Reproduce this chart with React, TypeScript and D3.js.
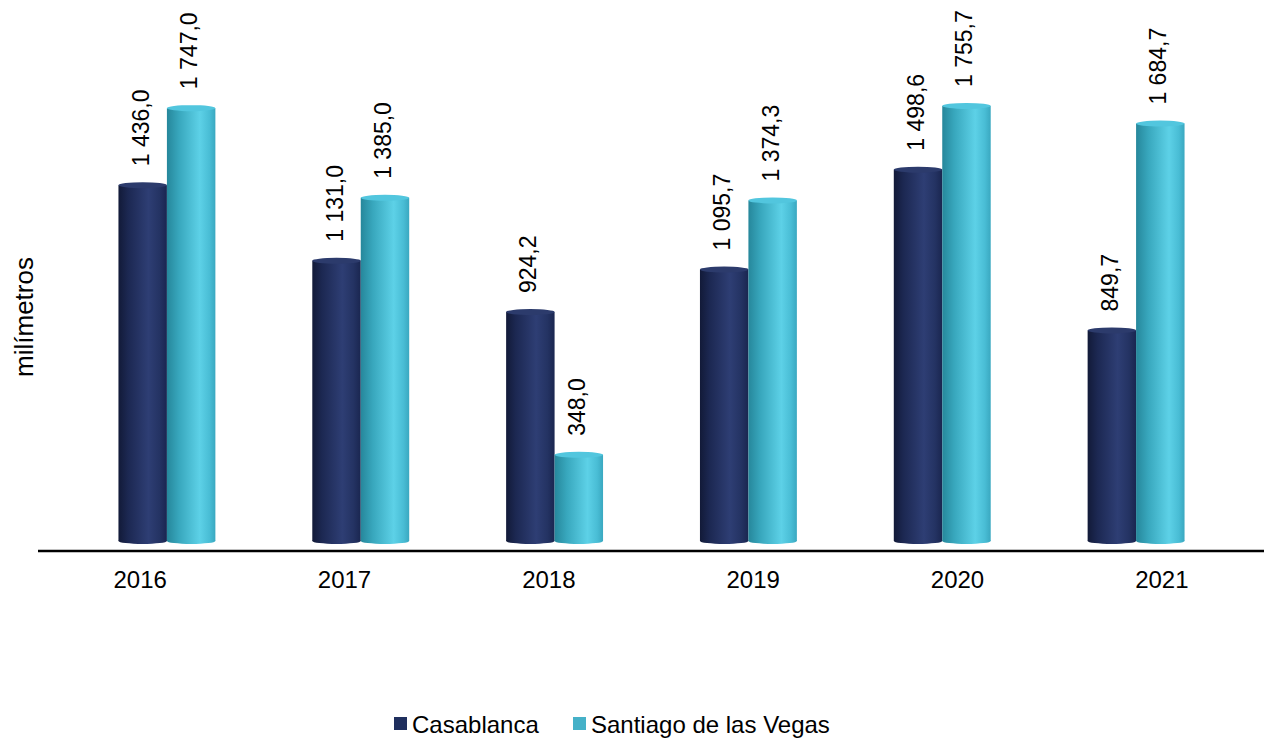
import React from "react";
import * as d3 from "d3";

const years = ["2016", "2017", "2018", "2019", "2020", "2021"];
const casablanca = [1436.0, 1131.0, 924.2, 1095.7, 1498.6, 849.7];
const santiago = [1747.0, 1385.0, 348.0, 1374.3, 1755.7, 1684.7];
const seriesNames = ["Casablanca", "Santiago de las Vegas"];
const yAxisTitle = "milímetros";

const W = 1264;
const H = 742;
const FONT = "'Liberation Sans', Arial, sans-serif";

const fmt = (v: number) => {
  const s = v.toFixed(1).replace(".", ",");
  const [intPart, dec] = s.split(",");
  const withSpace = intPart.replace(/\B(?=(\d{3})+(?!\d))/g, " ");
  return withSpace + "," + dec;
};

export default function App() {
  const y = d3.scaleLinear().domain([0, 1800]).range([541, 95]);
  const xBars = d3
    .scaleBand<string>()
    .domain(years)
    .range([70, 1233])
    .paddingInner(0.5)
    .paddingOuter(0.25);
  const xLabels = d3.scaleBand<string>().domain(years).range([38, 1264]);
  const xSeries = d3
    .scaleBand<number>()
    .domain([0, 1])
    .range([0, xBars.bandwidth()]);

  const series = [
    { name: seriesNames[0], values: casablanca, grad: "gradCasa", top: "#2c3b6c", legend: "#1f2f5e" },
    { name: seriesNames[1], values: santiago, grad: "gradSant", top: "#52c6de", legend: "#45b1c8" },
  ];

  const ry = 3;

  return (
    <svg
      width={W}
      height={H}
      style={{ position: "absolute", left: 0, top: 0, background: "#fff" }}
      fontFamily={FONT}
    >
      <defs>
        <linearGradient id="gradCasa" x1="0" x2="1" y1="0" y2="0">
          <stop offset="0" stopColor="#121a38" />
          <stop offset="0.2" stopColor="#1c2852" />
          <stop offset="0.62" stopColor="#2e3e74" />
          <stop offset="0.85" stopColor="#243363" />
          <stop offset="1" stopColor="#1a2650" />
        </linearGradient>
        <linearGradient id="gradSant" x1="0" x2="1" y1="0" y2="0">
          <stop offset="0" stopColor="#26879b" />
          <stop offset="0.25" stopColor="#38a7bd" />
          <stop offset="0.68" stopColor="#5dd1e7" />
          <stop offset="0.88" stopColor="#49bdd5" />
          <stop offset="1" stopColor="#3aa8c0" />
        </linearGradient>
      </defs>

      {years.map((yr, i) => (
        <g key={yr}>
          {series.map((s, si) => {
            const x0 = (xBars(yr) as number) + (xSeries(si) as number);
            const w = xSeries.bandwidth();
            const v = s.values[i];
            const yt = y(v);
            const yb = y(0);
            const cx = x0 + w / 2;
            return (
              <g key={s.name}>
                <ellipse cx={cx} cy={yb} rx={w / 2} ry={ry} fill={`url(#${s.grad})`} />
                <rect x={x0} y={yt} width={w} height={yb - yt} fill={`url(#${s.grad})`} />
                <ellipse cx={cx} cy={yt} rx={w / 2} ry={ry} fill={s.top} />
                <text
                  transform={`translate(${cx + 6},${yt - 19}) rotate(-90)`}
                  fontSize={23}
                  fill="#000"
                  textAnchor="start"
                >
                  {fmt(v)}
                </text>
              </g>
            );
          })}
          <text
            x={(xLabels(yr) as number) + xLabels.bandwidth() / 2}
            y={588}
            fontSize={24}
            textAnchor="middle"
            fill="#000"
          >
            {yr}
          </text>
        </g>
      ))}

      <line x1={38} x2={1264} y1={551} y2={551} stroke="#000" strokeWidth={2.5} />

      <text
        transform={`translate(33,317) rotate(-90)`}
        fontSize={26}
        textAnchor="middle"
        fill="#000"
      >
        {yAxisTitle}
      </text>

      <g>
        <rect x={394} y={717} width={13} height={13} fill={series[0].legend} />
        <text x={412} y={733} fontSize={24} fill="#000">
          {series[0].name}
        </text>
        <rect x={573} y={717} width={13} height={13} fill={series[1].legend} />
        <text x={591} y={733} fontSize={24} fill="#000">
          {series[1].name}
        </text>
      </g>
    </svg>
  );
}
